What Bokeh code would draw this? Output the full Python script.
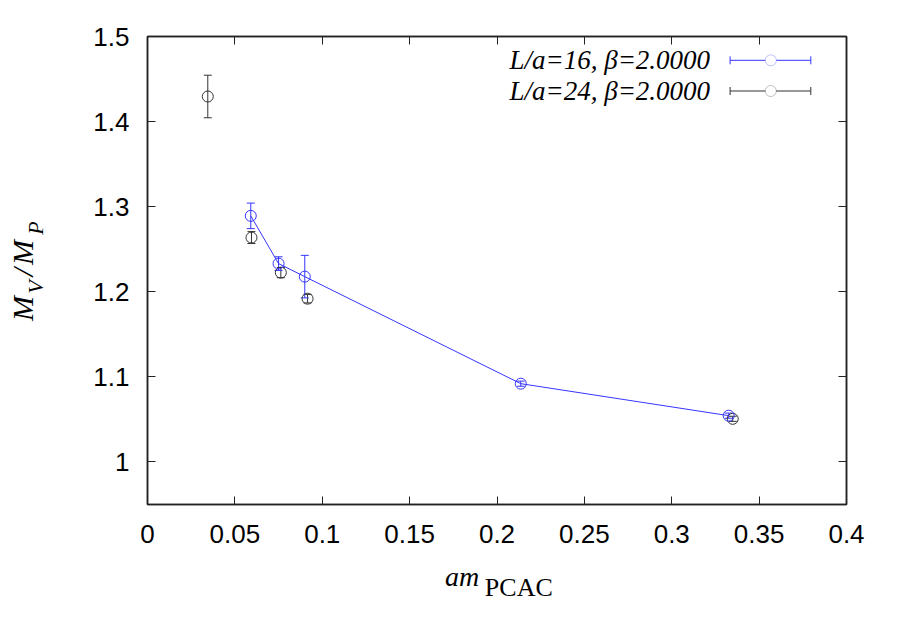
from bokeh.plotting import figure
from bokeh.layouts import row, column
from bokeh.models import (ColumnDataSource, Whisker, TeeHead, FixedTicker, LinearAxis,
                          Label, BoxAnnotation, CustomJSTickFormatter, Range1d)
from bokeh.embed import file_html
from bokeh.resources import INLINE
import math

# ---- data ----
x16 = [0.0591, 0.0750, 0.0900, 0.2136, 0.3326]
y16 = [1.2892, 1.2331, 1.2178, 1.0920, 1.0544]
e16 = [0.015, 0.008, 0.025, 0.003, 0.003]

x24 = [0.0345, 0.0595, 0.0763, 0.0916, 0.3349]
y24 = [1.4295, 1.2637, 1.2225, 1.1919, 1.0507]
e24 = [0.025, 0.007, 0.006, 0.005, 0.003]

x_ticks = [0, 0.05, 0.1, 0.15, 0.2, 0.25, 0.3, 0.35, 0.4]
x_tick_labels = ["0", "0.05", "0.1", "0.15", "0.2", "0.25", "0.3", "0.35", "0.4"]
y_ticks = [1.0, 1.1, 1.2, 1.3, 1.4, 1.5]
y_tick_labels = ["1", "1.1", "1.2", "1.3", "1.4", "1.5"]

legend_labels = ["L/a=16, \u03b2=2.0000", "L/a=24, \u03b2=2.0000"]

BLUE = "#3535ff"
BLACK = "#333333"

p = figure(width=840, height=560, output_backend="svg", toolbar_location=None,
           x_range=Range1d(0, 0.4), y_range=Range1d(0.95, 1.5),
           min_border_left=87, min_border_right=54, min_border_top=36, min_border_bottom=56,
           x_axis_location=None, y_axis_location=None)
p.grid.visible = False
p.outline_line_color = "#222222"
p.outline_line_width = 1.5
p.background_fill_color = "white"
p.border_fill_color = "white"

tick_font = "Liberation Sans"

def style_axis(ax, ticks, labels=None):
    ax.ticker = FixedTicker(ticks=ticks)
    ax.major_tick_in = 8
    ax.major_tick_out = 0
    ax.minor_tick_line_color = None
    ax.axis_line_color = "#222222"
    ax.axis_line_width = 1.5
    ax.major_tick_line_color = "#222222"
    ax.major_label_text_font = tick_font
    ax.major_label_text_font_size = "26px"
    ax.major_label_text_color = "black"
    if labels is not None:
        ax.major_label_overrides = {t: l for t, l in zip(ticks, labels)}
    else:
        ax.formatter = CustomJSTickFormatter(code="return ''")

bx = LinearAxis(); style_axis(bx, x_ticks, x_tick_labels); bx.major_label_standoff = 20
lx = LinearAxis(); style_axis(lx, y_ticks, y_tick_labels); lx.major_label_standoff = 18
tx = LinearAxis(); style_axis(tx, x_ticks)
rx = LinearAxis(); style_axis(rx, y_ticks)
p.add_layout(bx, "below")
p.add_layout(lx, "left")
p.add_layout(tx, "above")
p.add_layout(rx, "right")

# ---- series ----
def series(xs, ys, es, color, with_line):
    src = ColumnDataSource(dict(x=xs, y=ys, lo=[a - b for a, b in zip(ys, es)],
                                hi=[a + b for a, b in zip(ys, es)]))
    if with_line:
        p.line("x", "y", source=src, line_color=color, line_width=1)
    w = Whisker(source=src, base="x", lower="lo", upper="hi", dimension="height",
                line_color=color, line_width=1,
                upper_head=TeeHead(size=8, line_color=color, line_width=1),
                lower_head=TeeHead(size=8, line_color=color, line_width=1))
    p.add_layout(w)
    p.scatter("x", "y", source=src, marker="circle", size=11, fill_color=None,
              line_color=color, line_width=1)

series(x24, y24, e24, BLACK, False)
series(x16, y16, e16, BLUE, True)

# ---- legend (gnuplot style: text left, sample right) ----
rows_line_y = [444.2, 413.5]
colors = [BLUE, BLACK]
for lab_txt, ly, c in zip(legend_labels, rows_line_y, colors):
    p.add_layout(Label(x=562.6, y=ly, x_units="screen", y_units="screen", text=lab_txt,
                       text_font="Liberation Serif", text_font_style="italic",
                       text_font_size="27px", text_align="right", text_baseline="middle",
                       text_color="black"))
    src = ColumnDataSource(dict(base=[ly], lower=[582.6], upper=[663.3]))
    p.add_layout(Whisker(source=src, base="base", lower="lower", upper="upper",
                         dimension="width", base_units="screen", lower_units="screen",
                         upper_units="screen", line_color=c, line_width=1,
                         upper_head=TeeHead(size=8, line_color=c, line_width=1),
                         lower_head=TeeHead(size=8, line_color=c, line_width=1)))
    p.add_layout(BoxAnnotation(left=617.8, right=628.8, bottom=ly - 5.5, top=ly + 5.5,
                               left_units="screen", right_units="screen",
                               bottom_units="screen", top_units="screen",
                               fill_color="white", fill_alpha=1.0, line_color=c,
                               line_width=1, border_radius=6))

# ---- axis titles (math style) in small helper figures ----
def blank_fig(w, h):
    f = figure(width=w, height=h, output_backend="svg", toolbar_location=None,
               x_range=Range1d(0, w), y_range=Range1d(0, h), min_border=0,
               x_axis_location=None, y_axis_location=None)
    f.grid.visible = False
    f.outline_line_color = None
    f.background_fill_color = "white"
    f.border_fill_color = "white"
    return f

def lab(f, text, x, y, size, style="italic", angle=0.0):
    f.add_layout(Label(x=x, y=y, x_units="screen", y_units="screen", text=text,
                       text_font="Liberation Serif", text_font_style=style,
                       text_font_size=size, text_align="center", text_baseline="middle",
                       angle=angle, text_color="black"))

yl = blank_fig(60, 560)
a = math.pi / 2
lab(yl, "M", 21.7, 196.0, "30px", angle=a)
lab(yl, "V", 35.0, 217.5, "22px", angle=a)
lab(yl, "/", 21.7, 232.5, "30px", angle=a)
lab(yl, "M", 21.7, 252.0, "30px", angle=a)
lab(yl, "P", 35.0, 276.5, "22px", angle=a)

xl = blank_fig(900, 60)
lab(xl, "am", 461.7, 44.5, "28px")
lab(xl, "PCAC", 518.3, 33.5, "26px", style="normal")

layout = column(row(yl, p, spacing=0), xl, spacing=0)

open("out.html", "w").write(file_html(layout, INLINE))
